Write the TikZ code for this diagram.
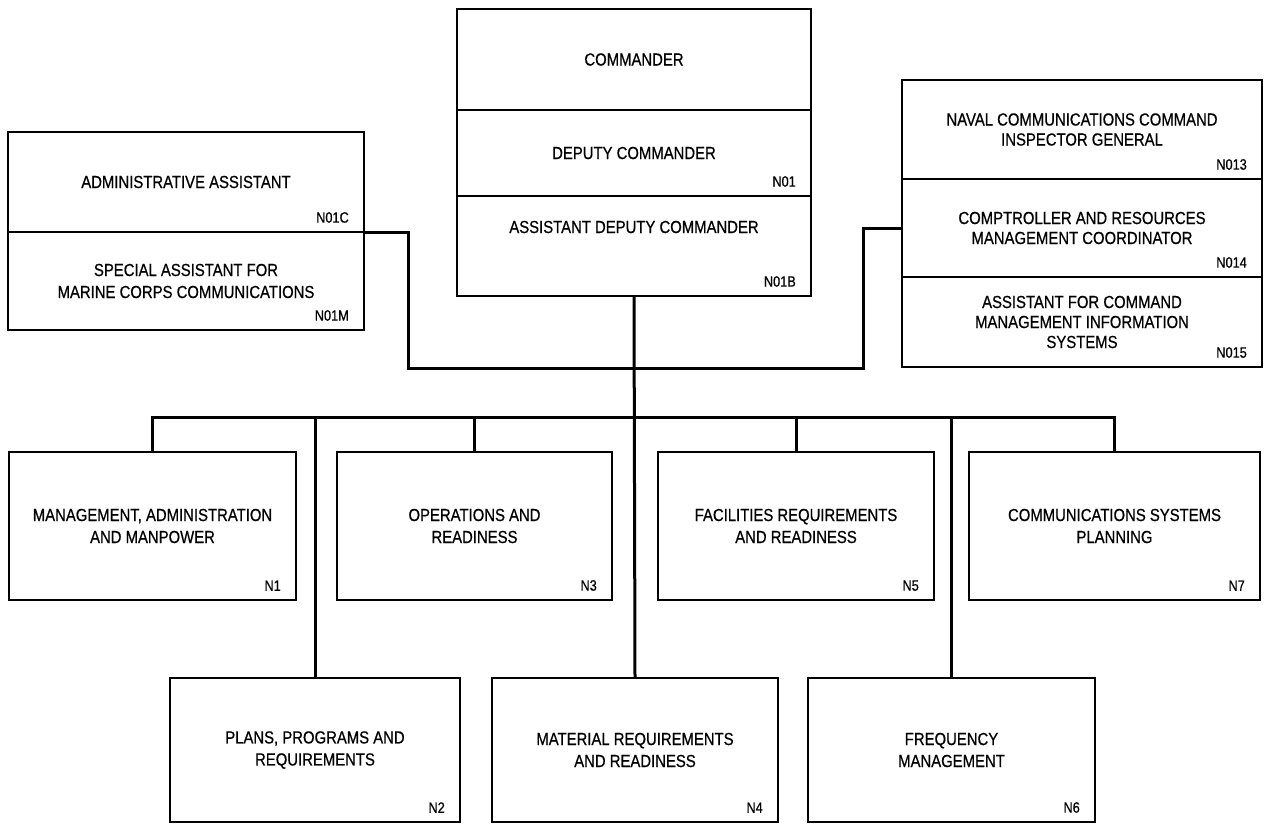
\documentclass[tikz,border=0pt]{standalone}
\usepackage{fontspec}
\setmainfont{Liberation Sans}[FakeStretch=0.85, FakeBold=0.6]
\usetikzlibrary{positioning}

\begin{document}
\begin{tikzpicture}[
    x=1pt, y=-1pt,
    box/.style={draw, line width=1.3pt, outer sep=0pt, inner sep=4pt, align=center, font=\fontsize{17.5}{22}\selectfont},
    code/.style={inner sep=0pt, anchor=south east, xshift=-15pt, yshift=9pt, font=\fontsize{15}{17}\selectfont},
    bus/.style={line width=3pt}
]
\useasboundingbox (0,0) rectangle (1265,823);

% command group
\node[box, minimum width=354pt, minimum height=101pt] (cmd) at (634,59.5) {COMMANDER};
\node[box, minimum width=354pt, minimum height=86pt, below=0pt of cmd] (dep) {DEPUTY COMMANDER};
\node[box, minimum width=354pt, minimum height=100pt, below=0pt of dep] (adc) {\raisebox{19pt}[\height][\depth]{ASSISTANT DEPUTY COMMANDER}};
\node[code] (c01) at (dep.south east) {N01};
\node[code] (c01b) at (adc.south east) {N01B};

% staff, left
\node[box, minimum width=356pt, minimum height=100pt] (adm) at (186,182) {ADMINISTRATIVE ASSISTANT};
\node[box, minimum width=356pt, minimum height=98pt, below=0pt of adm] (spc) {SPECIAL ASSISTANT FOR\\MARINE CORPS COMMUNICATIONS};
\node[code] (c01c) at (adm.south east) {N01C};
\node[code] (c01m) at (spc.south east) {N01M};

% staff, right
\node[box, minimum width=360pt, minimum height=99pt, font=\fontsize{17.5}{20}\selectfont] (nav) at (1082,129.5) {NAVAL COMMUNICATIONS COMMAND\\INSPECTOR GENERAL};
\node[box, minimum width=360pt, minimum height=98pt, font=\fontsize{17.5}{20}\selectfont, below=0pt of nav] (cmp) {COMPTROLLER AND RESOURCES\\MANAGEMENT COORDINATOR};
\node[box, minimum width=360pt, minimum height=90pt, font=\fontsize{17.5}{20}\selectfont, below=0pt of cmp] (ais) {ASSISTANT FOR COMMAND\\MANAGEMENT INFORMATION\\SYSTEMS};
\node[code] (c013) at (nav.south east) {N013};
\node[code] (c014) at (cmp.south east) {N014};
\node[code] (c015) at (ais.south east) {N015};

% divisions
\node[box, minimum width=287pt, minimum height=148pt] (n1) at (152.5,526) {MANAGEMENT, ADMINISTRATION\\AND MANPOWER};
\node[box, minimum width=275pt, minimum height=148pt] (n3) at (474.5,526) {OPERATIONS AND\\READINESS};
\node[box, minimum width=276pt, minimum height=148pt] (n5) at (796,526) {FACILITIES REQUIREMENTS\\AND READINESS};
\node[box, minimum width=291pt, minimum height=148pt] (n7) at (1114.5,526) {COMMUNICATIONS SYSTEMS\\PLANNING};
\node[box, minimum width=290pt, minimum height=144pt] (n2) at (315,750) {PLANS, PROGRAMS AND\\REQUIREMENTS};
\node[box, minimum width=286pt, minimum height=144pt] (n4) at (635,750) {MATERIAL REQUIREMENTS\\AND READINESS};
\node[box, minimum width=287pt, minimum height=144pt] (n6) at (951.5,750) {FREQUENCY\\MANAGEMENT};
\foreach \n in {1,...,7}
    \node[code] (c\n) at (n\n.south east) {N\n};

% lines
\coordinate (lj) at (408,368);
\coordinate (rj) at (863,368);
\coordinate (bar) at (634,417);
\draw[bus] (adm.south east) -| (lj) -- (rj) |- (cmp.west);
\draw[bus] (adc.south) -- (n4.north);
\draw[bus] (n1.north) |- (bar) -| (n7.north);
\foreach \n in {2,3,5,6}
    \draw[bus] (n\n.north) -- (n\n.north |- bar);

\end{tikzpicture}
\end{document}
